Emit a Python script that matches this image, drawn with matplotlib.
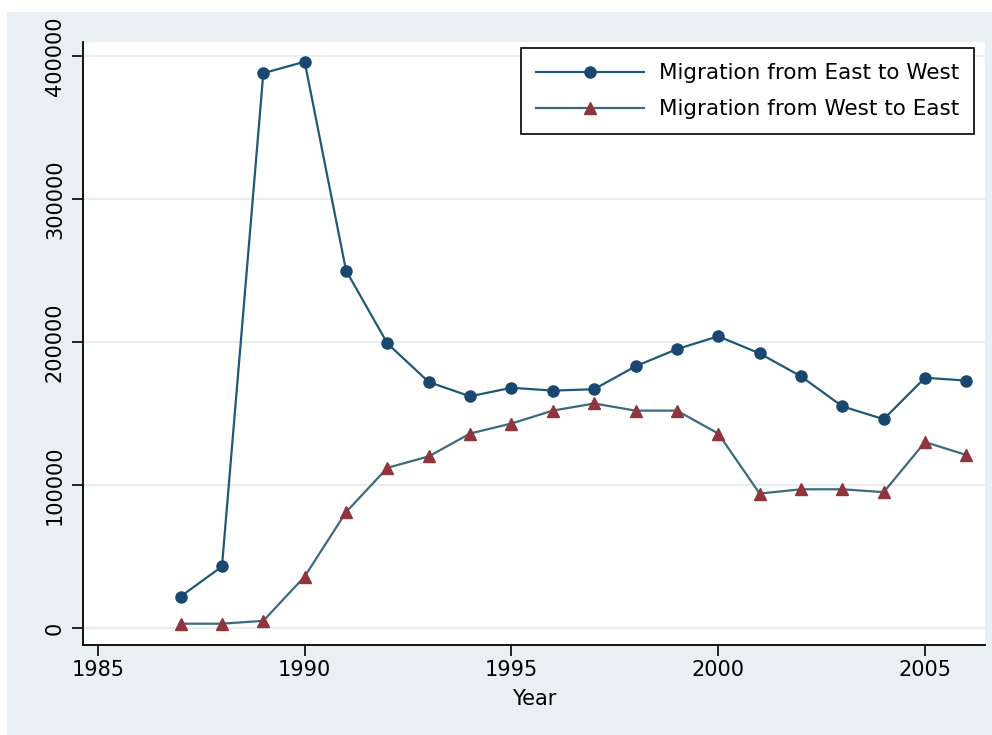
# Migration between East and West Germany, 1987-2006
import numpy as np
import matplotlib.pyplot as plt
from matplotlib.patches import Rectangle

# data
years = [1987, 1988, 1989, 1990, 1991, 1992, 1993, 1994, 1995, 1996,
         1997, 1998, 1999, 2000, 2001, 2002, 2003, 2004, 2005, 2006]
east_to_west = [22000, 43000, 388000, 396000, 250000, 199000, 172000, 162000, 168000, 166000,
                167000, 183000, 195000, 204000, 192000, 176000, 155000, 146000, 175000, 173000]
west_to_east = [3000, 3000, 5000, 36000, 81000, 112000, 120000, 136000, 143000, 152000,
                157000, 152000, 152000, 136000, 94000, 97000, 97000, 95000, 130000, 121000]
xticks = [1985, 1990, 1995, 2000, 2005]
yticks = [0, 100000, 200000, 300000, 400000]

W, H = 992, 735
fig = plt.figure(figsize=(W / 100, H / 100), dpi=100, facecolor='white')
# stata-like grey-blue background panel
bg = Rectangle((7 / W, 0), 1, 1 - 12 / H, transform=fig.transFigure,
               facecolor='#e9f0f3', edgecolor='none', zorder=-10)
fig.add_artist(bg)

ax = fig.add_axes([83 / W, (H - 645) / H, (985 - 83) / W, (645 - 42) / H])
ax.set_zorder(1)
ax.set_facecolor('white')

ax.plot(years, east_to_west, color='#1f5a75', lw=1.6, marker='o', ms=8,
        mfc='#1a476f', mec='#1a476f', label='Migration from East to West', zorder=3)
ax.plot(years, west_to_east, color='#3b6b7c', lw=1.6, marker='^', ms=9,
        mfc='#90353b', mec='#90353b', label='Migration from West to East', zorder=3)

ax.set_xlim(1984.64, 2006.45)
ax.set_ylim(-11900, 409800)
ax.set_xticks(xticks)
ax.set_yticks(yticks)
ax.set_yticklabels([str(v) for v in yticks], rotation=90, va='center')
ax.tick_params(axis='both', labelsize=15, length=8, width=1.2, colors='black', pad=3)
ax.tick_params(axis='y', pad=5)

# faint horizontal gridlines
ax.grid(axis='y', color='#e6eef1', lw=1.5)
ax.set_axisbelow(True)

for s in ['top', 'right']:
    ax.spines[s].set_visible(False)
for s in ['left', 'bottom']:
    ax.spines[s].set_linewidth(1.3)

ax.set_xlabel('Year', fontsize=15, labelpad=6)

leg = ax.legend(loc='upper right', bbox_to_anchor=(974 / W, 1 - 48 / H),
                bbox_transform=fig.transFigure, borderaxespad=0, fontsize=15.5,
                fancybox=False, edgecolor='black', framealpha=1,
                handlelength=5, handletextpad=0.7, labelspacing=0.75,
                borderpad=0.7)
leg.get_frame().set_linewidth(1.2)

plt.savefig('out.png', dpi=100, facecolor=fig.get_facecolor())
